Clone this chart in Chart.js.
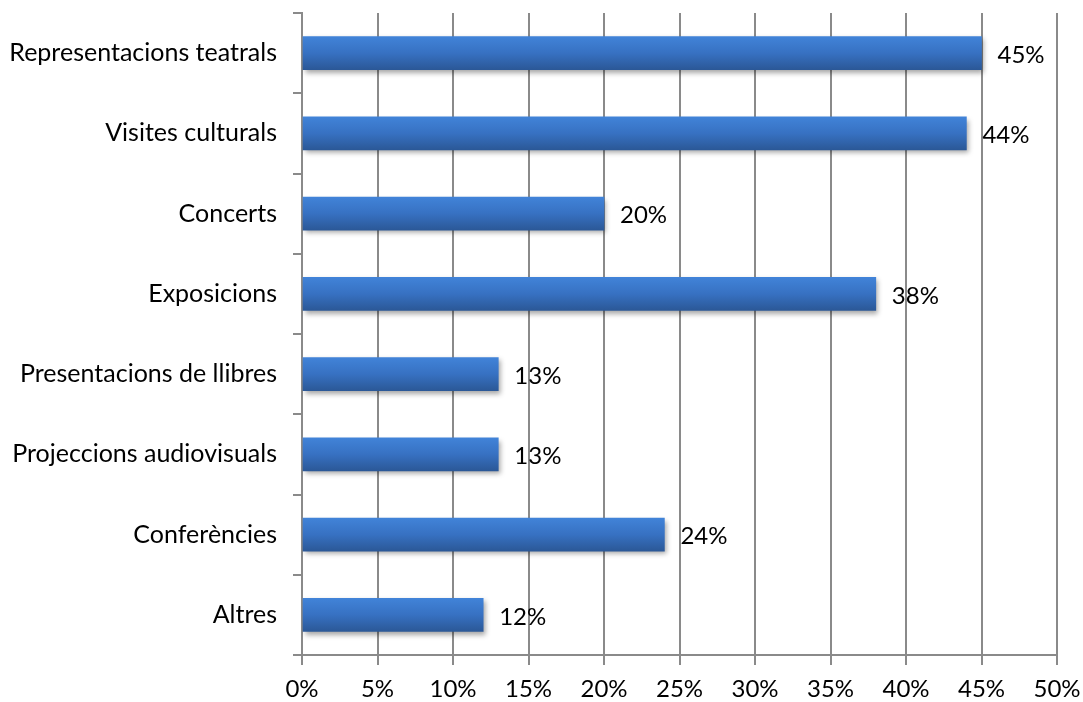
<!DOCTYPE html>
<html>
<head>
<meta charset="utf-8">
<script src="https://cdn.jsdelivr.net/npm/chart.js@4.4.0/dist/chart.umd.min.js"></script>
<style>
  html, body { margin: 0; padding: 0; background: #fff; }
  #wrap { width: 1083px; height: 702px; }
</style>
</head>
<body>
<div id="wrap"><canvas id="myChart" width="1083" height="702"></canvas></div>
<script>
// data
const categories = [
    'Representacions teatrals',
    'Visites culturals',
    'Concerts',
    'Exposicions',
    'Presentacions de llibres',
    'Projeccions audiovisuals',
    'Conferències',
    'Altres'
];
const values = [45, 44, 20, 38, 13, 13, 24, 12];
const x_ticks = [0, 5, 10, 15, 20, 25, 30, 35, 40, 45, 50];

Chart.defaults.font.size = 24;
Chart.defaults.font.family = "Lato, 'Open Sans', 'Liberation Sans', sans-serif";
Chart.defaults.color = '#000';

const gray = '#8a8a8a';

function barGradient(context) {
    const chart = context.chart;
    const y = chart.scales.y;
    if (!y || context.dataIndex === undefined) return '#3672c4';
    const mid = y.getPixelForValue(context.dataIndex);
    if (!isFinite(mid)) return '#3672c4';
    const g = chart.ctx.createLinearGradient(0, mid - 16.5, 0, mid + 16.5);
    g.addColorStop(0, '#4183d8');
    g.addColorStop(0.5, '#3771c2');
    g.addColorStop(1, '#2b5897');
    return g;
}

// shadow under the bars
const barShadow = {
    id: 'barShadow',
    beforeDatasetsDraw(chart) {
        const ctx = chart.ctx;
        ctx.save();
        ctx.shadowColor = 'rgba(0,0,0,0.35)';
        ctx.shadowBlur = 5;
        ctx.shadowOffsetX = 2;
        ctx.shadowOffsetY = 3;
    },
    afterDatasetsDraw(chart) {
        chart.ctx.restore();
    }
};

// value labels at the end of each bar
const valueLabels = {
    id: 'valueLabels',
    afterDraw(chart) {
        const ctx = chart.ctx;
        const meta = chart.getDatasetMeta(0);
        ctx.save();
        ctx.font = Chart.defaults.font.size + 'px ' + Chart.defaults.font.family;
        ctx.fillStyle = '#000';
        ctx.textAlign = 'left';
        ctx.textBaseline = 'middle';
        meta.data.forEach((bar, i) => {
            ctx.fillText(values[i] + '%', bar.x + 16, bar.y + 2);
        });
        ctx.restore();
    }
};

new Chart(document.getElementById('myChart'), {
    type: 'bar',
    data: {
        labels: categories,
        datasets: [{
            data: values,
            backgroundColor: barGradient,
            borderWidth: 0,
            barThickness: 33
        }]
    },
    options: {
        indexAxis: 'y',
        responsive: false,
        animation: false,
        layout: { padding: { top: 0, right: 0, bottom: 0, left: 0 } },
        plugins: {
            legend: { display: false },
            tooltip: { enabled: false }
        },
        scales: {
            x: {
                min: 0,
                max: 50,
                afterBuildTicks(scale) {
                    scale.ticks = x_ticks.map(v => ({ value: v }));
                },
                afterFit(scale) {
                    scale.height = 47;
                    scale.paddingRight = 26;
                },
                ticks: {
                    padding: 10,
                    callback: v => v + '%'
                },
                grid: {
                    color: gray,
                    lineWidth: 2,
                    tickLength: 10
                },
                border: { color: gray, width: 2 }
            },
            y: {
                afterFit(scale) {
                    scale.width = 302;
                    scale.paddingTop = 13;
                    scale.paddingBottom = 0;
                },
                ticks: { padding: 16, font: { size: 25 } },
                grid: {
                    offset: true,
                    drawOnChartArea: false,
                    color: gray,
                    lineWidth: 2,
                    tickLength: 9
                },
                border: { color: gray, width: 2 }
            }
        }
    },
    plugins: [barShadow, valueLabels]
});
</script>
</body>
</html>
